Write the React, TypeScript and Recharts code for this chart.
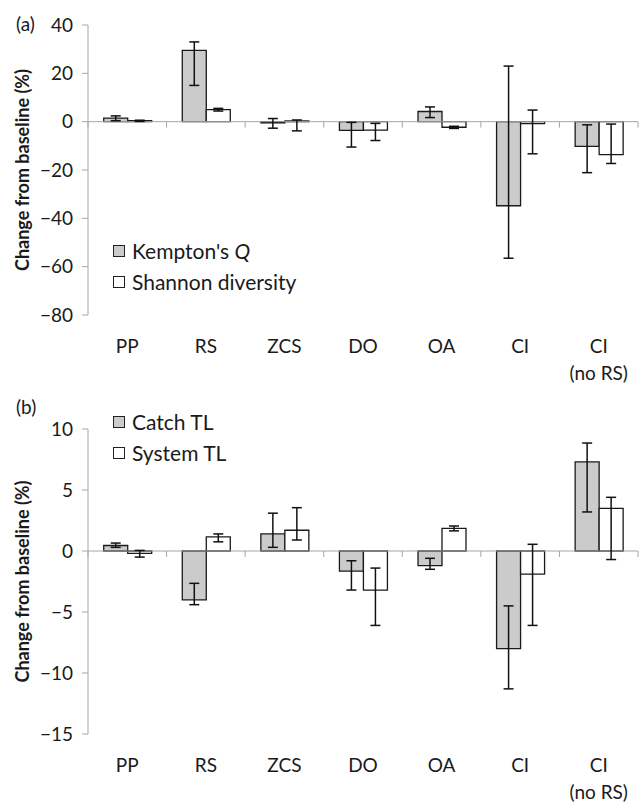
import React from 'react';
import { BarChart, Bar, XAxis, YAxis, ErrorBar, ReferenceLine } from 'recharts';

// categories shared by both panels
const categories = ['PP', 'RS', 'ZCS', 'DO', 'OA', 'CI', 'CI\n(no RS)'];

// panel (a)
const kemptonQ = [1.5, 29.5, -0.5, -3.6, 4.2, -34.8, -10.2];
const kemptonLow = [0.4, 15, -2.7, -10.5, 1.7, -56.5, -21.1];
const kemptonHigh = [2.4, 33, 1.3, -0.3, 6.1, 23, -1.3];
const shannon = [0.4, 5, 0.3, -3.5, -2.3, -0.8, -13.6];
const shannonLow = [0.1, 4.4, -3.8, -7.8, -2.8, -13.3, -17.3];
const shannonHigh = [0.6, 5.5, 0.7, -0.7, -1.9, 4.8, -1];
const ticksA = [40, 20, 0, -20, -40, -60, -80];

// panel (b)
const catchTL = [0.45, -4.0, 1.4, -1.65, -1.2, -8.0, 7.3];
const catchLow = [0.3, -4.4, 0.3, -3.2, -1.5, -11.3, 3.2];
const catchHigh = [0.65, -2.65, 3.1, -0.8, -0.6, -4.5, 8.85];
const systemTL = [-0.2, 1.15, 1.7, -3.2, 1.85, -1.9, 3.5];
const systemLow = [-0.5, 0.75, 0.9, -6.1, 1.65, -6.1, -0.7];
const systemHigh = [0.05, 1.4, 3.55, -1.4, 2.05, 0.55, 4.4];
const ticksB = [10, 5, 0, -5, -10, -15];

const FONT = 'Lato, "Open Sans", sans-serif';
const GRAY_FILL = '#cbcbcb';
const AXIS = '#a6a6a6';

function buildRows(a, aLo, aHi, b, bLo, bHi) {
  return categories.map((cat, i) => ({
    cat,
    a: a[i],
    aErr: [a[i] - aLo[i], aHi[i] - a[i]],
    b: b[i],
    bErr: [b[i] - bLo[i], bHi[i] - b[i]],
  }));
}

const dataA = buildRows(kemptonQ, kemptonLow, kemptonHigh, shannon, shannonLow, shannonHigh);
const dataB = buildRows(catchTL, catchLow, catchHigh, systemTL, systemLow, systemHigh);

const fmt = (v) => (v < 0 ? '\u2212' + Math.abs(v) : String(v));

const CatTick = ({ x, y, payload }) => {
  const lines = String(payload.value).split('\n');
  return (
    <g>
      {lines.map((l, i) => (
        <text key={i} x={x} y={y} dy={38 + i * 27} textAnchor="middle" fontSize={19} fill="#1a1a1a" fontFamily={FONT}>
          {l}
        </text>
      ))}
    </g>
  );
};

// zero line with small ticks at category boundaries
const ZeroLine = (p) => {
  const n = categories.length;
  const step = (p.x2 - p.x1) / n;
  const marks = [];
  for (let i = 0; i <= n; i++) {
    const x = p.x1 + i * step;
    marks.push(<line key={i} x1={x} x2={x} y1={p.y1} y2={p.y1 + 6} stroke={AXIS} strokeWidth={1} />);
  }
  return (
    <g>
      <line x1={p.x1} y1={p.y1} x2={p.x2} y2={p.y2} stroke={AXIS} strokeWidth={1} />
      {marks}
    </g>
  );
};

const yLabel = (props) => {
  const vb = props.viewBox;
  const cy = vb.y + vb.height / 2;
  return (
    <text
      x={29}
      y={cy}
      transform={`rotate(-90, 29, ${cy})`}
      textAnchor="middle"
      fontSize={18}
      fontWeight={700}
      fill="#1a1a1a"
      fontFamily={FONT}
    >
      Change from baseline (%)
    </text>
  );
};

const LegendBox = ({ items, left, top }) => (
  <div style={{ position: 'absolute', left, top, fontFamily: FONT, fontSize: 21, color: '#1a1a1a' }}>
    {items.map((it, i) => (
      <div key={i} style={{ display: 'flex', alignItems: 'center', height: 31, whiteSpace: 'nowrap' }}>
        <span
          style={{
            display: 'inline-block',
            width: 10,
            height: 10,
            border: '1px solid #222',
            background: it.fill,
            marginRight: 7,
          }}
        />
        <span>{it.label}</span>
      </div>
    ))}
  </div>
);

function Panel({ data, domain, ticks, top, bottom, height }) {
  return (
    <BarChart
      width={643}
      height={height}
      data={data}
      margin={{ top, right: 5, bottom, left: 0 }}
      barCategoryGap="20%"
      barGap={0}
    >
      <XAxis
        dataKey="cat"
        axisLine={false}
        tickLine={false}
        tickSize={0}
        tickMargin={0}
        interval={0}
        height={60}
        tick={<CatTick />}
      />
      <YAxis
        width={88}
        domain={domain}
        ticks={ticks}
        interval={0}
        allowDataOverflow
        stroke={AXIS}
        tickSize={6}
        tickMargin={9}
        tickFormatter={fmt}
        tick={{ fill: '#1a1a1a', fontSize: 19, fontFamily: FONT }}
        label={yLabel}
      />
      <ReferenceLine y={0} shape={ZeroLine} />
      <Bar dataKey="a" fill={GRAY_FILL} stroke="#1a1a1a" strokeWidth={1.3} isAnimationActive={false}>
        <ErrorBar dataKey="aErr" width={5} stroke="#111" strokeWidth={1.5} />
      </Bar>
      <Bar dataKey="b" fill="#ffffff" stroke="#1a1a1a" strokeWidth={1.3} isAnimationActive={false}>
        <ErrorBar dataKey="bErr" width={5} stroke="#111" strokeWidth={1.5} />
      </Bar>
    </BarChart>
  );
}

export default function App() {
  return (
    <div style={{ position: 'relative', width: 643, height: 805, background: '#fff', fontFamily: FONT }}>
      <style>{'body{margin:0}'}</style>
      <div style={{ position: 'absolute', left: 0, top: 0 }}>
        <Panel data={dataA} domain={[-80, 40]} ticks={ticksA} top={25} bottom={20} height={395} />
      </div>
      <div style={{ position: 'absolute', left: 0, top: 395 }}>
        <Panel data={dataB} domain={[-15, 10]} ticks={ticksB} top={34} bottom={11} height={410} />
      </div>
      <div style={{ position: 'absolute', left: 16, top: 12, fontSize: 19, color: '#1a1a1a' }}>(a)</div>
      <div style={{ position: 'absolute', left: 16, top: 395, fontSize: 19, color: '#1a1a1a' }}>(b)</div>
      <LegendBox
        left={113}
        top={235}
        items={[
          { fill: GRAY_FILL, label: <span>Kempton's <i>Q</i></span> },
          { fill: '#fff', label: 'Shannon diversity' },
        ]}
      />
      <LegendBox
        left={113}
        top={406}
        items={[
          { fill: GRAY_FILL, label: 'Catch TL' },
          { fill: '#fff', label: 'System TL' },
        ]}
      />
    </div>
  );
}
